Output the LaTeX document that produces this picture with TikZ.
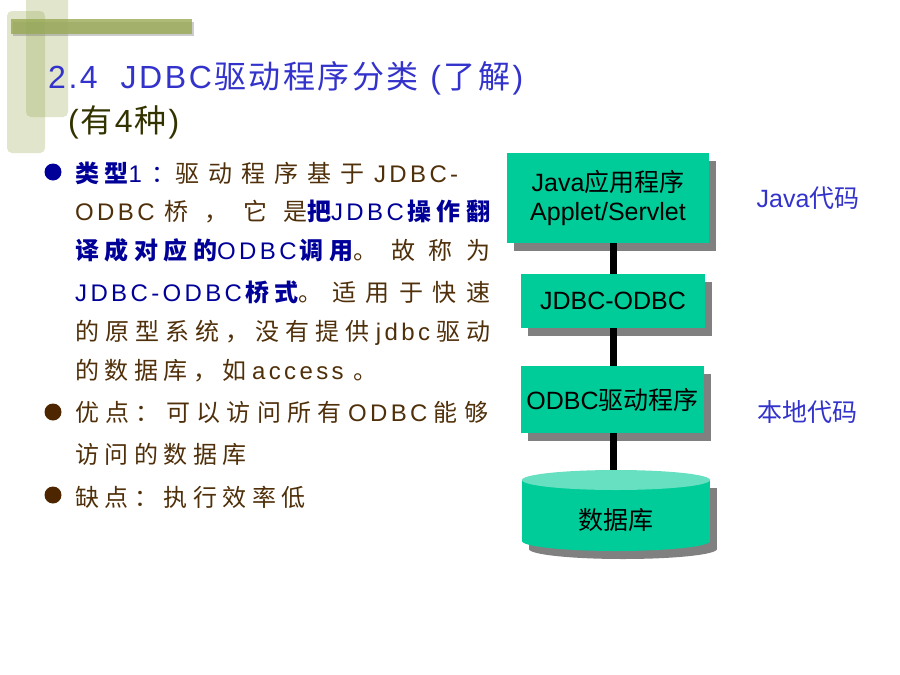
\documentclass[tikz,border=0pt]{standalone}
\usepackage{fontspec}
\usepackage{tikz}
\usetikzlibrary{positioning,shadows}
\setmainfont{Liberation Sans}
\newfontfamily\plainLatin{Liberation Sans}
\newfontfamily\plainHan{Noto Sans CJK SC}
\newfontfamily\bodyLatin[LetterSpace=14]{Liberation Sans}
\newfontfamily\titleLatin[LetterSpace=8]{Liberation Sans}
\definecolor{titleBlue}{RGB}{51,51,204}
\definecolor{subOlive}{RGB}{51,51,0}
\definecolor{bodyBrown}{RGB}{80,48,10}
\definecolor{markBlue}{RGB}{0,0,153}
\definecolor{dotBrown}{RGB}{77,38,0}
\definecolor{boxGreen}{RGB}{0,204,153}
\definecolor{dbTopGreen}{RGB}{102,224,192}
\definecolor{shadowGray}{RGB}{128,128,128}
\definecolor{oliveStripe}{RGB}{153,170,85}
% han / latin runs
\newskip\hanSkip
\newcommand{\hanFont}{\plainHan}
\newcommand{\latinFont}{\plainLatin}
\newcommand{\hanGap}{\hskip\hanSkip}
\newcommand{\usePlainFonts}{\hanSkip=0pt\let\latinFont\plainLatin\latinFont}
\newcommand{\useBodyFonts}{\hanSkip=5.5pt plus 1fil\let\latinFont\bodyLatin\latinFont}
\newcommand{\useTitleFonts}{\hanSkip=2pt plus 1fil\let\latinFont\titleLatin\latinFont}
\newcount\hanChar
\newcommand{\hanRange}[2]{\hanChar=#1 \loop\ifnum\hanChar<#2 \XeTeXcharclass\hanChar=7 \advance\hanChar by 1 \repeat}
\hanRange{"3000}{"3040}
\hanRange{"4E00}{"A000}
\hanRange{"FF00}{"FF60}
\XeTeXinterchartokenstate=1
\XeTeXinterchartoks 0 7 = {\hanGap\hanFont}
\XeTeXinterchartoks 7 0 = {\hanGap\latinFont}
\XeTeXinterchartoks 7 7 = {\hanGap}
\XeTeXinterchartoks 4095 7 = {\hanFont}
\XeTeXinterchartoks 7 4095 = {\latinFont}
\newcommand{\markUp}[1]{{\color{markBlue}\bfseries\hanSkip=5.5pt #1}}
\newcommand{\spreadLine}[2]{\hbox to #1pt{#2}}
\tikzstyle{stripeStyle} = [fill=oliveStripe, opacity=0.3, rounded corners=5pt]
\tikzstyle{barStyle} = [fill=oliveStripe, opacity=0.8]
\tikzstyle{titleText} = [anchor=base west, inner sep=0pt, color=titleBlue, font=\fontsize{32}{36}\selectfont\useTitleFonts]
\tikzstyle{bodyText} = [anchor=base west, inner sep=0pt, color=bodyBrown, font=\fontsize{24}{28}\selectfont\useBodyFonts]
\tikzstyle{bulletDot} = [circle, inner sep=0pt, minimum size=17pt]
\tikzstyle{layerBox} = [fill=boxGreen, inner sep=0pt, align=center, font=\fontsize{25}{29}\selectfont\usePlainFonts, drop shadow={shadow xshift=7pt, shadow yshift=-8pt, fill=shadowGray, opacity=1}]
\tikzstyle{layerLink} = [line width=7pt, color=black]
\tikzstyle{codeLabel} = [color=titleBlue, inner sep=0pt, font=\fontsize{25}{29}\selectfont\usePlainFonts]
\begin{document}
\begin{tikzpicture}[x=1pt, y=-1pt]
  \fill[white] (0,0) rectangle (900,675);
  \useasboundingbox (0,0) rectangle (900,675);
  % corner decoration
  \fill[stripeStyle] (7,11) rectangle (45,153);
  \fill[stripeStyle] (26,-6) rectangle (68,117);
  \fill[shadowGray, opacity=0.4] (13,22) rectangle (194,36);
  \fill[barStyle] (11,19) rectangle (192,34);

  % heading
  \node[titleText] (title) at (48,88) {\spreadLine{475}{2.4\ \ JDBC驱动程序分类 (了解)}};
  \node[titleText, color=subOlive] (subTitle) at (68,132) {(有4种)};

  % bullets
  \node[bulletDot, fill=markBlue] (dotOne) at (53,172) {};
  \node[bulletDot, fill=dotBrown] (dotTwo) at (53,412) {};
  \node[bulletDot, fill=dotBrown] (dotThree) at (53,495) {};
  \node[bodyText] (lineOne) at (75,182) {\spreadLine{383}{\markUp{类型}\textcolor{markBlue}{1：}驱动程序基于 JDBC-}};
  \node[bodyText] (lineTwo) at (75,220) {\spreadLine{415}{ODBC 桥，它是\markUp{把\textmd{JDBC}操作翻}}};
  \node[bodyText] (lineThree) at (75,259) {\spreadLine{415}{\markUp{译成对应的\textmd{ODBC}调用}。故称为}};
  \node[bodyText] (lineFour) at (75,301) {\spreadLine{415}{\markUp{\textmd{JDBC-ODBC}桥式}。适用于快速}};
  \node[bodyText] (lineFive) at (75,340) {\spreadLine{415}{的原型系统，没有提供jdbc驱动}};
  \node[bodyText] (lineSix) at (75,379) {的数据库，如access 。};
  \node[bodyText] (lineSeven) at (75,421) {\spreadLine{413}{优点：可以访问所有ODBC能够}};
  \node[bodyText] (lineEight) at (75,463) {访问的数据库};
  \node[bodyText] (lineNine) at (75,506) {缺点：执行效率低};

  % layers
  \node[layerBox, minimum width=202pt, minimum height=90pt] (javaApp) at (608,198) {Java应用程序\\Applet/Servlet};
  \node[layerBox, minimum width=184pt, minimum height=54pt] (bridge) at (613,301) {JDBC-ODBC};
  \node[layerBox, minimum width=183pt, minimum height=67pt] (odbcDriver) at (612.5,399.5) {ODBC驱动程序};

  % database cylinder
  \fill[shadowGray] (529,488) rectangle (717,549);
  \fill[shadowGray] (623,549) ellipse [x radius=94, y radius=10];
  \fill[boxGreen] (522,480) rectangle (710,541);
  \fill[boxGreen] (616,541) ellipse [x radius=94, y radius=10];
  \fill[dbTopGreen] (616,480) ellipse [x radius=94, y radius=10];
  \coordinate (dbTop) at (613,470);
  \node[inner sep=0pt, font=\fontsize{25}{29}\selectfont\usePlainFonts] (dataBase) at (616,520) {数据库};

  \draw[layerLink] (javaApp.south -| bridge.north) -- (bridge.north);
  \draw[layerLink] (bridge.south) -- (odbcDriver.north -| bridge.south);
  \draw[layerLink] (odbcDriver.south -| dbTop) -- (dbTop);

  \node[codeLabel] (javaCode) at (808,198) {Java代码};
  \node[codeLabel] (nativeCode) at (807,412) {本地代码};
\end{tikzpicture}
\end{document}
